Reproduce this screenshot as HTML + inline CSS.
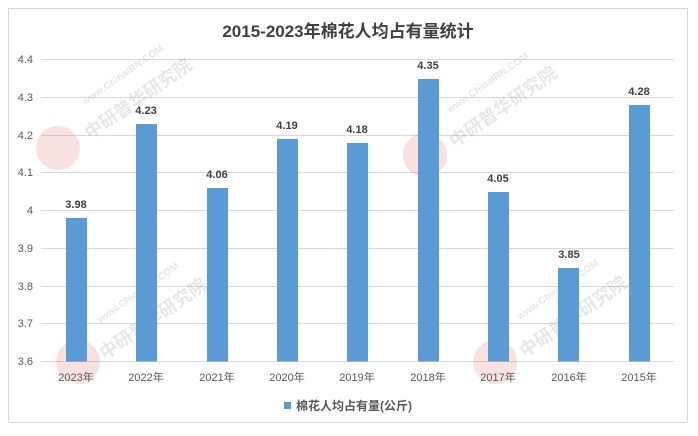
<!DOCTYPE html>
<html><head><meta charset="utf-8"><style>
html,body{margin:0;padding:0;background:#fff;width:698px;height:436px;overflow:hidden}
svg text{font-family:"Liberation Sans","Noto Sans CJK SC",sans-serif}
</style></head><body>
<svg width="698" height="436" viewBox="0 0 698 436" xmlns="http://www.w3.org/2000/svg">
<rect x="8.5" y="8.5" width="679" height="414" fill="#fff" stroke="#d9d9d9" stroke-width="1"/>
<text x="348" y="37" text-anchor="middle" font-size="17" font-weight="bold" fill="#404040">2015-2023年棉花人均占有量统计</text>
<g stroke="#d9d9d9" stroke-width="1">
<line x1="41" x2="674" y1="59.5" y2="59.5"/>
<line x1="41" x2="674" y1="97.5" y2="97.5"/>
<line x1="41" x2="674" y1="135.5" y2="135.5"/>
<line x1="41" x2="674" y1="172.5" y2="172.5"/>
<line x1="41" x2="674" y1="210.5" y2="210.5"/>
<line x1="41" x2="674" y1="248.5" y2="248.5"/>
<line x1="41" x2="674" y1="286.5" y2="286.5"/>
<line x1="41" x2="674" y1="323.5" y2="323.5"/>
<line x1="41" x2="674" y1="361.5" y2="361.5"/>
</g>
<g font-size="11" fill="#595959" text-anchor="end">
<text x="33" y="63">4.4</text><text x="33" y="101">4.3</text><text x="33" y="139">4.2</text>
<text x="33" y="176">4.1</text><text x="33" y="214">4</text><text x="33" y="252">3.9</text>
<text x="33" y="290">3.8</text><text x="33" y="327">3.7</text><text x="33" y="365">3.6</text>
</g>
<g opacity="0.18" fill="#808080" font-weight="bold">
<circle cx="58" cy="148" r="22" fill="#e06060"/>
<circle cx="425" cy="155" r="22" fill="#e06060"/>
<circle cx="78" cy="362" r="22" fill="#e06060"/>
<circle cx="495" cy="362" r="22" fill="#e06060"/>
<text x="90" y="140" font-size="18" transform="rotate(-35 90 140)">中研普华研究院</text>
<text x="455" y="148" font-size="18" transform="rotate(-35 455 148)">中研普华研究院</text>
<text x="105" y="360" font-size="18" transform="rotate(-35 105 360)">中研普华研究院</text>
<text x="525" y="358" font-size="18" transform="rotate(-35 525 358)">中研普华研究院</text>
<text x="85" y="105" font-size="10" transform="rotate(-35 85 105)">www.ChinaIRN.COM</text>
<text x="450" y="113" font-size="10" transform="rotate(-35 450 113)">www.ChinaIRN.COM</text>
<text x="100" y="323" font-size="10" transform="rotate(-35 100 323)">www.ChinaIRN.COM</text>
<text x="520" y="320" font-size="10" transform="rotate(-35 520 320)">www.ChinaIRN.COM</text>
</g>
<g fill="#5b9bd5">
<rect x="66" y="218" width="21" height="143.5"/>
<rect x="136" y="124" width="21" height="237.5"/>
<rect x="207" y="188" width="21" height="173.5"/>
<rect x="277" y="139" width="21" height="222.5"/>
<rect x="347" y="143" width="21" height="218.5"/>
<rect x="418" y="79" width="21" height="282.5"/>
<rect x="488" y="192" width="21" height="169.5"/>
<rect x="558" y="268" width="21" height="93.5"/>
<rect x="629" y="105" width="21" height="256.5"/>
</g>
<g font-size="11" font-weight="bold" fill="#404040" text-anchor="middle">
<text x="76" y="208">3.98</text><text x="146" y="114">4.23</text><text x="217" y="178">4.06</text>
<text x="287" y="129">4.19</text><text x="357" y="133">4.18</text><text x="428" y="69">4.35</text>
<text x="498" y="182">4.05</text><text x="569" y="258">3.85</text><text x="639" y="95">4.28</text>
</g>
<g font-size="11" fill="#595959" text-anchor="middle">
<text x="76" y="381">2023年</text><text x="146" y="381">2022年</text><text x="217" y="381">2021年</text>
<text x="287" y="381">2020年</text><text x="357" y="381">2019年</text><text x="428" y="381">2018年</text>
<text x="498" y="381">2017年</text><text x="569" y="381">2016年</text><text x="639" y="381">2015年</text>
</g>
<rect x="284" y="402" width="7" height="7" fill="#5b9bd5"/>
<text x="296" y="410" font-size="12" font-weight="bold" fill="#595959">棉花人均占有量(公斤)</text>
</svg>
</body></html>
